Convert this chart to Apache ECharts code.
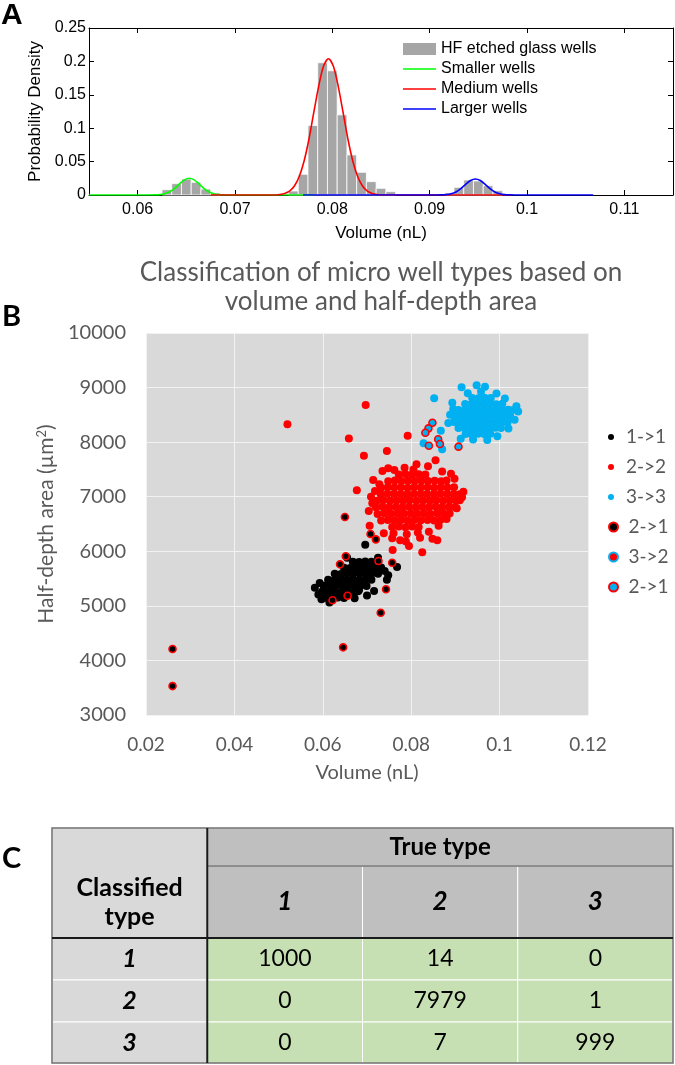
<!DOCTYPE html>
<html><head><meta charset="utf-8">
<script src="https://cdn.jsdelivr.net/npm/echarts@6/dist/echarts.min.js"></script>
<style>html,body{margin:0;padding:0;background:#fff}#c{width:675px;height:1065px}</style>
</head><body><div id="c"></div>
<script>
// ---------------- Panel A data ----------------
const histBinWidth = 0.001;
const histBinCenters = [0.063,0.064,0.065,0.066,0.067,0.068,
  0.076,0.077,0.078,0.079,0.080,0.081,0.082,0.083,0.084,0.085,0.086,
  0.092,0.093,0.094,0.095,0.096,0.097];
const histDensity = [0.008,0.017,0.024,0.019,0.009,0.003,
  0.006,0.031,0.104,0.198,0.186,0.120,0.060,0.034,0.020,0.010,0.005,
  0.003,0.0115,0.0225,0.021,0.014,0.0065];
const smallerCurve = [[0.055,0],[0.0600,0],[0.0612,0.00003],[0.0618,0.00016],[0.0623,0.0006],[0.0628,0.0019],[0.0633,0.0048],[0.0638,0.0099],[0.0643,0.0166],[0.0648,0.0226],[0.0653,0.025],[0.0658,0.0226],[0.0663,0.0166],[0.0668,0.0099],[0.0673,0.0048],[0.0678,0.0019],[0.0683,0.0006],[0.0688,0.00016],[0.0694,0.00003],[0.0700,0],[0.0780,0]];
const mediumCurve = [[0.0675,0],[0.0740,0],[0.0746,0.0008],[0.0751,0.0023],[0.0756,0.0058],[0.0761,0.0134],[0.0766,0.0276],[0.0771,0.0509],[0.0776,0.0838],[0.0781,0.124],[0.0786,0.163],[0.0791,0.193],[0.0796,0.204],[0.0801,0.193],[0.0806,0.163],[0.0811,0.124],[0.0816,0.0838],[0.0821,0.0509],[0.0826,0.0276],[0.0831,0.0134],[0.0836,0.0058],[0.0841,0.0023],[0.0846,0.0008],[0.0852,0],[0.0985,0]];
const largerCurve = [[0.077,0],[0.0900,0],[0.0906,0.00003],[0.0912,0.00016],[0.0917,0.0006],[0.0922,0.0018],[0.0927,0.0046],[0.0932,0.0095],[0.0937,0.0159],[0.0942,0.0217],[0.0947,0.024],[0.0952,0.0217],[0.0957,0.0159],[0.0962,0.0095],[0.0967,0.0046],[0.0972,0.0018],[0.0977,0.0006],[0.0982,0.00016],[0.0988,0.00003],[0.0995,0],[0.1068,0]];
const histXTicks = [0.06,0.07,0.08,0.09,0.1,0.11];

// ---------------- Panel B data ----------------
const pts11 = [
[0.0606,5150],[0.0620,5140],[0.0634,5155],[0.0648,5145],
[0.0598,5260],[0.0612,5255],[0.0626,5265],[0.0640,5250],[0.0654,5262],[0.0668,5255],[0.0680,5268],
[0.0602,5370],[0.0616,5365],[0.0630,5375],[0.0644,5368],[0.0658,5372],[0.0672,5366],[0.0686,5375],[0.0699,5362],
[0.0612,5480],[0.0626,5475],[0.0640,5485],[0.0654,5478],[0.0668,5482],[0.0682,5476],[0.0696,5485],[0.0710,5478],
[0.0627,5590],[0.0641,5585],[0.0655,5595],[0.0669,5588],[0.0683,5592],[0.0697,5586],[0.0711,5595],[0.0725,5588],
[0.0648,5700],[0.0662,5695],[0.0676,5705],[0.0690,5698],[0.0704,5702],[0.0718,5696],[0.0732,5705],
[0.0668,5810],[0.0682,5805],[0.0696,5815],[0.0710,5808],
[0.0582,5333],[0.0590,5210],[0.0597,5120],[0.0615,5060],[0.0696,6121],[0.0768,5712],[0.0716,5272],[0.0682,5290],
[0.0740,5640],[0.0748,5560],[0.0700,5190],[0.0672,5140],[0.0593,5420],[0.0655,5880],[0.0725,5880],[0.0745,5480]];
const pts22 = [
[0.0757,6445],[0.0772,6455],[0.0787,6440],[0.0802,6452],[0.0817,6446],
[0.0732,6565],[0.0747,6575],[0.0762,6568],[0.0777,6572],[0.0792,6565],[0.0807,6575],[0.0822,6568],[0.0837,6572],[0.0852,6566],[0.0866,6574],
[0.0724,6685],[0.0739,6695],[0.0754,6688],[0.0769,6692],[0.0784,6686],[0.0799,6694],[0.0814,6688],[0.0829,6692],[0.0844,6685],[0.0859,6695],[0.0874,6688],[0.0887,6692],
[0.0720,6805],[0.0735,6815],[0.0750,6808],[0.0765,6812],[0.0780,6806],[0.0795,6814],[0.0810,6808],[0.0825,6812],[0.0840,6805],[0.0855,6815],[0.0870,6808],[0.0885,6812],[0.0899,6806],
[0.0722,6925],[0.0737,6935],[0.0752,6928],[0.0767,6932],[0.0782,6926],[0.0797,6934],[0.0812,6928],[0.0827,6932],[0.0842,6925],[0.0857,6935],[0.0872,6928],[0.0887,6932],[0.0902,6926],[0.0910,6934],
[0.0731,7045],[0.0746,7055],[0.0761,7048],[0.0776,7052],[0.0791,7046],[0.0806,7054],[0.0821,7048],[0.0836,7052],[0.0851,7045],[0.0866,7055],[0.0881,7048],[0.0896,7052],[0.0910,7046],
[0.0732,7165],[0.0747,7175],[0.0762,7168],[0.0777,7172],[0.0792,7166],[0.0807,7174],[0.0822,7168],[0.0837,7172],[0.0852,7165],[0.0867,7175],[0.0882,7168],[0.0897,7172],
[0.0748,7285],[0.0763,7295],[0.0778,7288],[0.0793,7292],[0.0808,7286],[0.0823,7294],[0.0838,7288],[0.0853,7292],[0.0868,7285],[0.0880,7295],
[0.0772,7405],[0.0787,7415],[0.0802,7408],[0.0817,7412],[0.0832,7406],
[0.0520,8327],[0.0697,8681],[0.0659,8065],[0.0745,7838],[0.0693,7751],[0.0792,8118],[0.0855,7667],[0.0812,7594],
[0.0677,7117],[0.0714,7306],[0.0718,7105],[0.0704,6738],[0.0706,6469],[0.0859,6201],[0.0825,5981],[0.0758,6023],
[0.0795,6097],[0.0757,6238],[0.0735,7470],[0.0748,7520],[0.0762,7490],[0.0785,7530],[0.0805,7500],[0.0760,6330],
[0.0790,6310],[0.0815,6345],[0.0775,6200],[0.0840,6360],[0.0862,6470],[0.0880,6590],[0.0903,6790],[0.0915,6990],
[0.0918,7090],[0.0898,7330],[0.0870,7460],[0.0738,6330],[0.0712,6880],[0.0709,7000],[0.0848,6230],[0.0788,6180],
[0.0838,7560],[0.0728,7230],[0.0890,7420],[0.0820,6250]];
const pts33 = [
[0.0923,8150],[0.0937,8145],[0.0951,8155],[0.0965,8148],[0.0979,8152],
[0.0907,8260],[0.0921,8255],[0.0935,8265],[0.0949,8258],[0.0963,8262],[0.0977,8256],[0.0991,8264],[0.1003,8258],
[0.0897,8370],[0.0911,8365],[0.0925,8375],[0.0939,8368],[0.0953,8372],[0.0967,8366],[0.0981,8374],[0.0995,8368],[0.1009,8372],[0.1018,8366],
[0.0898,8480],[0.0912,8475],[0.0926,8485],[0.0940,8478],[0.0954,8482],[0.0968,8476],[0.0982,8484],[0.0996,8478],[0.1010,8482],[0.1024,8476],
[0.0907,8590],[0.0921,8585],[0.0935,8595],[0.0949,8588],[0.0963,8592],[0.0977,8586],[0.0991,8594],[0.1005,8588],[0.1019,8592],[0.1028,8586],
[0.0922,8700],[0.0936,8695],[0.0950,8705],[0.0964,8698],[0.0978,8702],[0.0992,8696],[0.1006,8704],
[0.0938,8810],[0.0952,8805],[0.0966,8815],[0.0980,8808],
[0.0852,8803],[0.0895,8607],[0.0867,8210],[0.0870,7869],[0.0828,7979],[0.0914,9005],[0.0948,9042],[0.0967,9017],
[0.0884,8350],[0.0888,8500],[0.0912,8060],[0.0940,8050],[0.0972,8040],[0.0995,8110],[0.1042,8560],[0.1038,8660],
[0.1034,8410],[0.0993,8890],[0.1012,8800],[0.0928,8895],[0.0893,8720],[0.1020,8250],[0.0958,8930]];
const pts21Black = [[0.0650,6628],[0.0708,6317],[0.0720,6219],[0.0652,5908],[0.0639,5761],[0.0726,5822],[0.0757,5791],
[0.0743,5303],[0.0656,5186],[0.0622,5102],[0.0731,4875],[0.0646,4240],[0.0260,4210],[0.0260,3530]];
const pts32 = [];
const pts21Blue = [[0.0848,8356],[0.0839,8253],[0.0832,8173],[0.0861,8052],[0.0865,7966],[0.0840,7935],[0.0907,7917]];

// ---------------- Panel C data ----------------
const trueTypes = ['1','2','3'];
const classifiedTypes = ['1','2','3'];
const confusionCounts = [[1000,14,0],[0,7979,1],[0,7,999]];

// table layout (axis units of the hidden table grid)
const rowEdges = [0,38,110,152,194,235];
const tableCells = [];
tableCells.push({c0:0,c1:1,r0:0,r1:2,t0:1,t1:2,fill:'#d9d9d9',text:'Classified\ntype',font:'bold 25px Lato',lh:29});
tableCells.push({c0:1,c1:4,r0:0,r1:1,t0:0,t1:1,fill:'#bfbfbf',text:'True type',font:'bold 24px Lato'});
trueTypes.forEach((t,j)=>tableCells.push({c0:1+j,c1:2+j,r0:1,r1:2,t0:1,t1:2,fill:'#bfbfbf',text:t,font:'italic bold 26px Lato'}));
classifiedTypes.forEach((t,i)=>{
  tableCells.push({c0:0,c1:1,r0:2+i,r1:3+i,t0:2+i,t1:3+i,fill:'#d9d9d9',text:t,font:'italic bold 25px Lato'});
  confusionCounts[i].forEach((v,j)=>tableCells.push({c0:1+j,c1:2+j,r0:2+i,r1:3+i,t0:2+i,t1:3+i,fill:'#c6e0b4',text:String(v),font:'23px Lato'}));
});
tableCells.push({frame:true});

const chart = echarts.init(document.getElementById('c'), null, {renderer:'canvas'});
const grayTxt = '#595959';
const lineIcon = 'path://M0,0 L33,0 L33,1.6 L0,1.6 Z';

function tableRender(params, api){
  const c = tableCells[params.dataIndex];
  if (c.frame){
    const tl = api.coord([0,0]), br = api.coord([4,235]);
    const x1 = api.coord([1,0])[0];
    const yHead = api.coord([0,rowEdges[2]])[1];
    const yTrue = api.coord([0,rowEdges[1]])[1];
    return {type:'group', children:[
      {type:'rect', shape:{x:tl[0],y:tl[1],width:br[0]-tl[0],height:br[1]-tl[1]}, style:{fill:null,stroke:'#6f6f6f',lineWidth:1.5}},
      {type:'line', shape:{x1:x1,y1:yTrue,x2:br[0],y2:yTrue}, style:{stroke:'#6f6f6f',lineWidth:1.5}},
      {type:'line', shape:{x1:tl[0],y1:yHead,x2:br[0],y2:yHead}, style:{stroke:'#1a1a1a',lineWidth:2}},
      {type:'line', shape:{x1:x1,y1:tl[1],x2:x1,y2:br[1]}, style:{stroke:'#1a1a1a',lineWidth:2}}
    ]};
  }
  const p0 = api.coord([c.c0, rowEdges[c.r0]]);
  const p1 = api.coord([c.c1, rowEdges[c.r1]]);
  const ty = (api.coord([0,rowEdges[c.t0]])[1] + api.coord([0,rowEdges[c.t1]])[1]) / 2;
  return {type:'group', children:[
    {type:'rect', shape:{x:p0[0],y:p0[1],width:p1[0]-p0[0],height:p1[1]-p0[1]}, style:{fill:c.fill,stroke:'#ffffff',lineWidth:1}},
    {type:'text', style:{text:c.text, x:(p0[0]+p1[0])/2, y:ty, align:'center', verticalAlign:'middle', font:c.font, fill:'#000', lineHeight:c.lh||30}}
  ]};
}

const ringStyle = (fill, ring) => ({color:fill, borderColor:ring, borderWidth:1.6, opacity:1});

const option = {
  animation:false,
  backgroundColor:'#fff',
  title:[
    {text:'A', left:1, top:1, padding:0, textStyle:{fontFamily:'Liberation Sans', fontWeight:'bold', fontSize:30, color:'#000'}},
    {text:'B', left:2, top:302, padding:0, textStyle:{fontFamily:'Lato', fontWeight:'bold', fontSize:29, color:'#000'}},
    {text:'C', left:2, top:844, padding:0, textStyle:{fontFamily:'Lato', fontWeight:'bold', fontSize:29, color:'#000'}},
    {text:'Classification of micro well types based on\nvolume and half-depth area', left:381, top:258, textAlign:'center', padding:0,
     textStyle:{fontFamily:'Lato', fontWeight:'normal', fontSize:26, lineHeight:29, color:grayTxt}}
  ],
  legend:[
    {data:[{name:'HF etched glass wells', icon:'rect'},{name:'Smaller wells', icon:lineIcon},{name:'Medium wells', icon:lineIcon},{name:'Larger wells', icon:lineIcon}],
     orient:'vertical', left:403, top:41, padding:0, itemWidth:33, itemHeight:12, itemGap:4, selectedMode:false,
     textStyle:{fontFamily:'Liberation Sans', fontSize:16, lineHeight:16, color:'#000'}},
    {data:['1->1','2->2','3->3'], orient:'vertical', left:608, top:427, padding:0, itemWidth:20, itemHeight:6, itemGap:10,
     icon:'circle', selectedMode:false, itemStyle:{opacity:1}, textStyle:{fontFamily:'Lato', fontSize:19, lineHeight:20, color:grayTxt}},
    {data:['2->1','3->2','2->1 '], orient:'vertical', left:608, top:517, padding:0, itemWidth:20, itemHeight:9, itemGap:10,
     icon:'circle', selectedMode:false, itemStyle:{opacity:1}, formatter:n=>n.trim(), textStyle:{fontFamily:'Lato', fontSize:19, lineHeight:20, color:grayTxt}}
  ],
  grid:[
    {left:89, top:28, width:584, height:167},
    {left:146, top:333, width:442, height:382, show:true, backgroundColor:'#d9d9d9', borderWidth:0},
    {left:52, top:828, width:621, height:235}
  ],
  xAxis:[
    {gridIndex:0, type:'value', min:0.055, max:0.115, position:'bottom',
     axisLine:{show:true, onZero:false, lineStyle:{color:'#000', width:1}},
     axisTick:{show:true, inside:true, length:5, customValues:histXTicks, lineStyle:{color:'#000'}},
     axisLabel:{customValues:histXTicks, color:'#000', fontFamily:'Liberation Sans', fontSize:16, margin:7},
     splitLine:{show:false},
     name:'Volume (nL)', nameLocation:'middle', nameGap:30, nameTextStyle:{color:'#000', fontFamily:'Liberation Sans', fontSize:17}},
    {gridIndex:0, type:'value', min:0.055, max:0.115, position:'top',
     axisLine:{show:true, onZero:false, lineStyle:{color:'#000', width:1}},
     axisTick:{show:true, inside:true, length:5, customValues:histXTicks, lineStyle:{color:'#000'}},
     axisLabel:{show:false}, splitLine:{show:false}},
    {gridIndex:1, type:'value', min:0.02, max:0.12, interval:0.02,
     axisLine:{show:false}, axisTick:{show:false},
     axisLabel:{color:grayTxt, fontFamily:'Lato', fontSize:19, margin:20},
     splitLine:{show:true, lineStyle:{color:'#f2f2f2', width:1}},
     name:'Volume (nL)', nameLocation:'middle', nameGap:48, nameTextStyle:{color:grayTxt, fontFamily:'Lato', fontSize:20}},
    {gridIndex:2, type:'value', min:0, max:4, show:false}
  ],
  yAxis:[
    {gridIndex:0, type:'value', min:0, max:0.25, interval:0.05, position:'left',
     axisLine:{show:true, onZero:false, lineStyle:{color:'#000', width:1}},
     axisTick:{show:true, inside:true, length:5, lineStyle:{color:'#000'}},
     axisLabel:{color:'#000', fontFamily:'Liberation Sans', fontSize:16, margin:3},
     splitLine:{show:false},
     name:'Probability Density', nameLocation:'middle', nameGap:40, nameTextStyle:{color:'#000', fontFamily:'Liberation Sans', fontSize:17}},
    {gridIndex:0, type:'value', min:0, max:0.25, interval:0.05, position:'right',
     axisLine:{show:true, onZero:false, lineStyle:{color:'#000', width:1}},
     axisTick:{show:true, inside:true, length:5, lineStyle:{color:'#000'}},
     axisLabel:{show:false}, splitLine:{show:false}},
    {gridIndex:1, type:'value', min:3000, max:10000, interval:1000,
     axisLine:{show:false}, axisTick:{show:false},
     axisLabel:{color:grayTxt, fontFamily:'Lato', fontSize:20, margin:20, formatter:v=>String(v)},
     splitLine:{show:true, lineStyle:{color:'#f2f2f2', width:1}},
     name:'Half-depth area (µm{sup|2})', nameLocation:'middle', nameGap:88,
     nameTextStyle:{color:grayTxt, fontFamily:'Lato', fontSize:21,
       rich:{sup:{color:grayTxt, fontFamily:'Lato', fontSize:13, padding:[0,0,9,0]}}}},
    {gridIndex:2, type:'value', min:0, max:235, inverse:true, show:false}
  ],
  series:[
    {name:'HF etched glass wells', type:'custom', xAxisIndex:0, yAxisIndex:0,
     itemStyle:{color:'#a6a6a6'},
     data:histBinCenters.map((c,i)=>[c, histDensity[i]]), encode:{x:0, y:1},
     renderItem:(params, api)=>{
       const c = api.value(0), h = api.value(1);
       const a = api.coord([c - histBinWidth/2, h]);
       const b = api.coord([c + histBinWidth/2, 0]);
       return {type:'rect', shape:{x:a[0], y:a[1], width:b[0]-a[0], height:b[1]-a[1]},
               style:{fill:'#a6a6a6', stroke:'#ffffff', lineWidth:0.8}};
     }, z:1},
    {name:'Smaller wells', type:'line', xAxisIndex:0, yAxisIndex:0, data:smallerCurve, symbol:'none', smooth:0.3,
     lineStyle:{color:'#00ff00', width:1.6}, itemStyle:{color:'#00ff00'}, z:3},
    {name:'Medium wells', type:'line', xAxisIndex:0, yAxisIndex:0, data:mediumCurve, symbol:'none', smooth:0.3,
     lineStyle:{color:'#ff0000', width:1.6}, itemStyle:{color:'#ff0000'}, z:3},
    {name:'Larger wells', type:'line', xAxisIndex:0, yAxisIndex:0, data:largerCurve, symbol:'none', smooth:0.3,
     lineStyle:{color:'#0000ff', width:1.6}, itemStyle:{color:'#0000ff'}, z:3},

    {name:'2->2', type:'scatter', xAxisIndex:2, yAxisIndex:2, data:pts22, symbolSize:8, itemStyle:{color:'#ff0000', opacity:1}, z:2},
    {name:'1->1', type:'scatter', xAxisIndex:2, yAxisIndex:2, data:pts11, symbolSize:8, itemStyle:{color:'#000000', opacity:1}, z:3},
    {name:'3->3', type:'scatter', xAxisIndex:2, yAxisIndex:2, data:pts33, symbolSize:8, itemStyle:{color:'#00b0f0', opacity:1}, z:3},
    {name:'2->1', type:'scatter', xAxisIndex:2, yAxisIndex:2, data:pts21Black, symbolSize:7, itemStyle:ringStyle('#000000','#ff0000'), z:4},
    {name:'3->2', type:'scatter', xAxisIndex:2, yAxisIndex:2, data:pts32, symbolSize:7, itemStyle:ringStyle('#ff0000','#00b0f0'), z:4},
    {name:'2->1 ', type:'scatter', xAxisIndex:2, yAxisIndex:2, data:pts21Blue, symbolSize:7, itemStyle:ringStyle('#00b0f0','#ff0000'), z:4},

    {name:'table', type:'custom', xAxisIndex:3, yAxisIndex:3, data:tableCells.map((c,i)=>[i]),
     renderItem:tableRender, silent:true, clip:false}
  ]
};
chart.setOption(option);
</script></body></html>
